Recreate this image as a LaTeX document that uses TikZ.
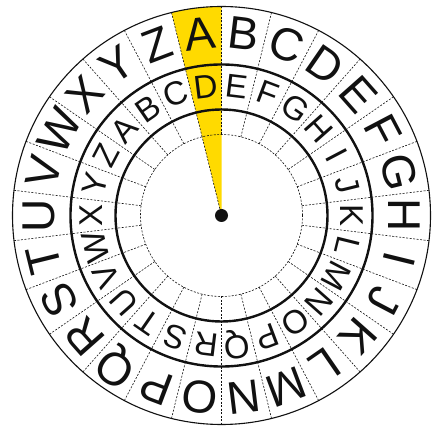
\documentclass[tikz,border=0pt]{standalone}
\usepackage{fontspec}
\setmainfont{Liberation Sans}
\usepackage{tikz}
\definecolor{Ink}{HTML}{111111}
\definecolor{Wedge}{HTML}{FFDA00}
\tikzset{
  rim/.style={draw=Ink,line width=1.1pt},
  ring/.style={draw=Ink,line width=2.4pt},
  tick/.style={draw=Ink,line width=0.6pt,dash pattern=on 2pt off 1.5pt},
  bigletter/.style={font=\fontsize{46}{46}\selectfont,inner sep=0pt,text=Ink},
  smallletter/.style={font=\fontsize{33}{33}\selectfont,inner sep=0pt,text=Ink},
  hubdot/.style={circle,fill=Ink,minimum size=13pt,inner sep=0pt}
}
\begin{document}
\begin{tikzpicture}[x=1pt,y=1pt]
  \useasboundingbox (-221.5,-214.5) rectangle (211.5,215.5);
  % pointer wedge over A / D
  \fill[Wedge] (0,0) -- (90:209) arc[start angle=90,end angle=103.846,radius=209] -- cycle;
  \draw[tick] (0,0) -- (103.846:81);
  % sector borders
  \foreach \k in {0,...,25}{
    \pgfmathsetmacro\t{90+\k*360/26}
    \draw[tick] (\t:81) -- (\t:209);
  }
  \draw[tick] (0,0) circle[radius=81];
  \draw[rim] (0,0) circle[radius=209];
  \draw[ring] (0,0) circle[radius=151];
  \draw[ring] (0,0) circle[radius=106];
  % outer and inner alphabets
  \foreach \l [count=\i from 0] in {A,B,C,D,E,F,G,H,I,J,K,L,M,N,O,P,Q,R,S,T,U,V,W,X,Y,Z}{
    \pgfmathsetmacro\a{96.923-\i*13.846}
    \pgfmathsetmacro\b{138.461-\i*13.846}
    \node[bigletter,rotate=\a-90] (out\l) at (\a:183) {\l};
    \node[smallletter,rotate=\b-90] (in\l) at (\b:130) {\l};
  }
  \node[hubdot] (hub) at (0,0) {};
\end{tikzpicture}
\end{document}
